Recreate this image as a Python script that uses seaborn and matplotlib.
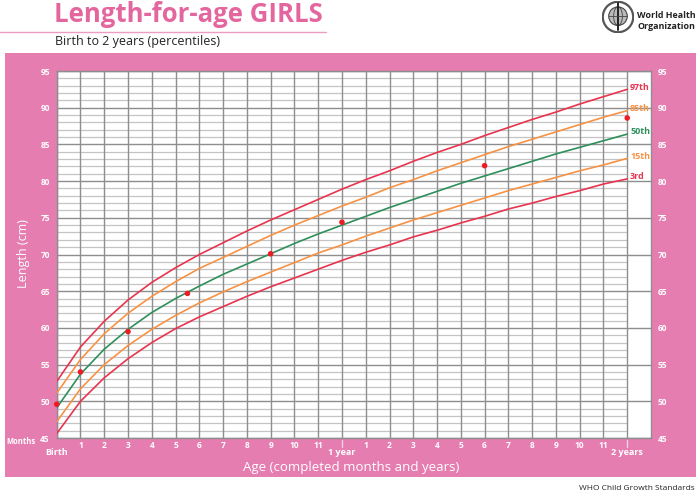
import numpy as np
import pandas as pd
import matplotlib
matplotlib.use("Agg")
import matplotlib.pyplot as plt
from matplotlib.patches import Rectangle, Circle, Ellipse
from matplotlib.lines import Line2D
import seaborn as sns

# ---------------- data ----------------
months = list(range(0, 25))
p3 = [45.6, 50.0, 53.2, 55.8, 58.0, 59.9, 61.5, 62.9, 64.3, 65.6, 66.8, 68.0, 69.2,
      70.3, 71.3, 72.4, 73.3, 74.3, 75.2, 76.2, 77.0, 77.9, 78.7, 79.6, 80.3]
p15 = [47.2, 51.7, 55.0, 57.6, 59.8, 61.7, 63.4, 64.9, 66.3, 67.6, 68.9, 70.2, 71.3,
       72.5, 73.6, 74.7, 75.7, 76.7, 77.7, 78.7, 79.6, 80.5, 81.4, 82.2, 83.1]
p50 = [49.1, 53.7, 57.1, 59.8, 62.1, 64.0, 65.7, 67.3, 68.7, 70.1, 71.5, 72.8, 74.0,
       75.2, 76.4, 77.5, 78.6, 79.7, 80.7, 81.7, 82.7, 83.7, 84.6, 85.5, 86.4]
p85 = [51.1, 55.7, 59.2, 62.0, 64.3, 66.3, 68.1, 69.6, 71.1, 72.6, 74.0, 75.3, 76.6,
       77.8, 79.1, 80.2, 81.4, 82.5, 83.6, 84.7, 85.7, 86.7, 87.7, 88.7, 89.6]
p97 = [52.7, 57.4, 60.9, 63.8, 66.2, 68.2, 70.0, 71.6, 73.2, 74.7, 76.1, 77.5, 78.9,
       80.2, 81.4, 82.7, 83.9, 85.0, 86.2, 87.3, 88.4, 89.4, 90.5, 91.5, 92.5]
percentile_labels = ["3rd", "15th", "50th", "85th", "97th"]

child_age = [0, 1, 3, 5.5, 9, 12, 18, 24]
child_length = [49.6, 54.0, 59.5, 64.7, 70.1, 74.4, 82.1, 88.6]

y_ticks = [45, 50, 55, 60, 65, 70, 75, 80, 85, 90, 95]
x_tick_labels = ["", "1", "2", "3", "4", "5", "6", "7", "8", "9", "10", "11", "",
                 "1", "2", "3", "4", "5", "6", "7", "8", "9", "10", "11", ""]

# ---------------- style ----------------
PINK = "#E57DB1"
TITLE_PINK = "#E4669F"
RED = "#E8344E"
ORANGE = "#F79244"
GREEN = "#2F8F5B"
DOT = "#EE1B24"
GRID_DARK = "#8E8E8E"
GRID_LIGHT = "#C4C4C4"
palette = {"3rd": RED, "15th": ORANGE, "50th": GREEN, "85th": ORANGE, "97th": RED}

sns.set_theme(style="white")
plt.rcParams["font.family"] = ["Open Sans", "DejaVu Sans"]

W, H = 700, 495
fig = plt.figure(figsize=(W / 100, H / 100), dpi=100)
fig.patch.set_facecolor("white")

def fx(px):
    return px / W

def fy(py):
    return 1 - py / H

# pink panel (background axes)
bg = fig.add_axes([fx(4.5), fy(477), fx(696) - fx(4.5), fy(53) - fy(477)], zorder=-5)
bg.set_facecolor(PINK)
bg.set_xticks([])
bg.set_yticks([])
for s in bg.spines.values():
    s.set_visible(False)

ax = fig.add_axes([fx(56.7), fy(438), fx(651) - fx(56.7), fy(71) - fy(438)], zorder=1)
ax.set_facecolor("white")
ax.set_xlim(0, 25)
ax.set_ylim(45, 95)

# grid
for v in range(45, 96):
    if v % 5 == 0:
        ax.axhline(v, color=GRID_DARK, lw=1.0, zorder=1)
    else:
        ax.axhline(v, xmin=0, xmax=24 / 25, color=GRID_LIGHT, lw=0.9, zorder=0.9)
for m in months:
    ax.axvline(m, color=GRID_DARK, lw=1.0, zorder=1)
for s in ax.spines.values():
    s.set_color(GRID_DARK)
    s.set_linewidth(1.0)

# curves
rows = []
for lab, vals in zip(percentile_labels, [p3, p15, p50, p85, p97]):
    for m, v in zip(months, vals):
        rows.append({"month": m, "length": v, "percentile": lab})
df = pd.DataFrame(rows)
sns.lineplot(data=df, x="month", y="length", hue="percentile", palette=palette,
             legend=False, ax=ax, lw=1.2, zorder=3)

# child measurements
dots = pd.DataFrame({"age": child_age, "length": child_length})
sns.scatterplot(data=dots, x="age", y="length", color=DOT, s=16, marker="o",
                edgecolor="none", ax=ax, zorder=4, clip_on=False)

# percentile labels at curve ends
for lab, vals in zip(percentile_labels, [p3, p15, p50, p85, p97]):
    ax.text(24.12, vals[-1] + 0.3, lab, color=palette[lab], fontsize=6.4, fontweight="bold",
            ha="left", va="center", zorder=5)

# ticks
ax.set_xticks(months)
ax.set_xticklabels(x_tick_labels)
ax.set_yticks(y_ticks)
ax.set_yticklabels([str(t) for t in y_ticks])
ax.tick_params(axis="x", length=0, pad=2.5, labelsize=6, labelcolor="white")
ax.tick_params(axis="y", length=0, pad=5, labelsize=6, labelcolor="white",
               left=True, right=True, labelleft=True, labelright=True)
for lbl in ax.get_xticklabels() + ax.get_yticklabels():
    lbl.set_fontweight("bold")
ax.set_xlabel("")
ax.set_ylabel("")

# small ticks at 1 year, 2 years
for m in [12, 24]:
    ax.plot([m, m], [-0.005, -0.025], transform=ax.get_xaxis_transform(),
            color="#F4D2E3", lw=1.0, clip_on=False)

tr = ax.get_xaxis_transform()
ax.text(0, -0.04, "Birth", transform=tr, color="white", fontsize=6.5, fontweight="bold",
        ha="center", va="center")
ax.text(12, -0.04, "1 year", transform=tr, color="white", fontsize=6.5, fontweight="bold",
        ha="center", va="center")
ax.text(24, -0.04, "2 years", transform=tr, color="white", fontsize=6.5, fontweight="bold",
        ha="center", va="center")

fig.text(fx(21), fy(442), "Months", color="white", fontsize=5.5, fontweight="bold",
         ha="center", va="center")
fig.text(fx(351), fy(468), "Age (completed months and years)", color="white", fontsize=9.5,
         ha="center", va="center")
fig.text(fx(23), fy(254), "Length (cm)", color="white", fontsize=9, rotation=90,
         ha="center", va="center")

# header
fig.text(fx(54), fy(14), "Length-for-age GIRLS", color=TITLE_PINK, fontsize=18.5,
         fontweight="bold", ha="left", va="center")
fig.lines.append(Line2D([0, fx(326)], [fy(31.7), fy(31.7)], transform=fig.transFigure,
                        color="#EE9CC4", lw=1.0))
fig.text(fx(55), fy(42), "Birth to 2 years (percentiles)", color="#222222", fontsize=9,
         ha="left", va="center")

# WHO emblem (simplified)
lax = fig.add_axes([fx(602), fy(33), fx(634) - fx(602), fy(1) - fy(33)])
lax.set_xlim(-1, 1)
lax.set_ylim(-1, 1)
lax.set_aspect("equal")
lax.axis("off")
lax.add_patch(Circle((0, 0), 0.95, facecolor="none", edgecolor="#555555", lw=1.6))
lax.add_patch(Circle((0, 0.05), 0.58, facecolor="#BBBBBB", edgecolor="#444444", lw=0.8))
lax.add_patch(Ellipse((0, 0.05), 0.55, 1.16, facecolor="none", edgecolor="#444444", lw=0.6))
lax.plot([0, 0], [-0.8, 0.85], color="#222222", lw=1.4)
lax.plot([-0.58, 0.58], [0.05, 0.05], color="#444444", lw=0.6)

fig.text(fx(637), fy(16), "World Health", color="#222222", fontsize=6.4, fontweight="bold",
         ha="left", va="center")
fig.text(fx(637), fy(26.5), "Organization", color="#222222", fontsize=6.4, fontweight="bold",
         ha="left", va="center")

fig.text(fx(695), fy(488), "WHO Child Growth Standards", color="#222222", fontsize=6,
         ha="right", va="center")

fig.savefig("out.png", dpi=100, facecolor="white")
